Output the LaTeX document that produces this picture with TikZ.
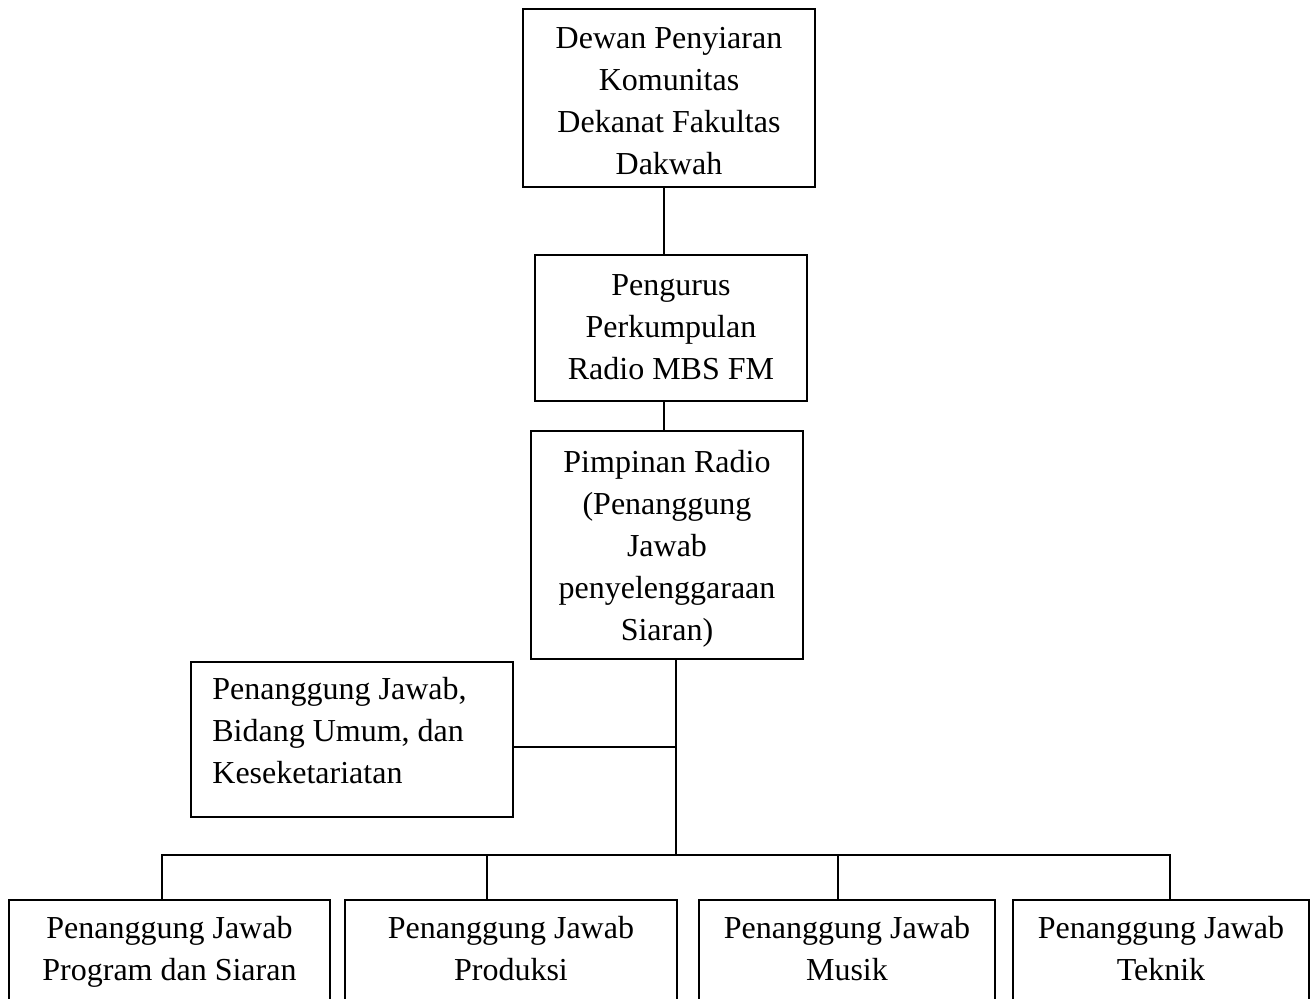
\documentclass[tikz,border=0pt]{standalone}
\usepackage{fontspec}
\setmainfont{Liberation Serif}
\begin{document}
\begin{tikzpicture}[x=0.5pt,y=-0.5pt,
  box/.style={draw=black, line width=1pt, rectangle, inner sep=0pt},
  txt/.style={inner sep=0pt, font=\fontsize{16}{21}\selectfont},
  conn/.style={draw=black, line width=1pt}]
\clip (0,0) rectangle (1314,999);
\fill[white] (0,0) rectangle (1314,999);
% boxes
\node[box, minimum width=146pt, minimum height=89pt] (b1) at (669,98) {};
\node[box, minimum width=136pt, minimum height=73pt] (b2) at (671,328) {};
\node[box, minimum width=136pt, minimum height=114pt] (b3) at (667,545) {};
\node[box, minimum width=161pt, minimum height=77.5pt] (lb) at (352,739.5) {};
\node[box, minimum width=160.5pt, minimum height=60pt] (bA) at (169.5,960) {};
\node[box, minimum width=166pt, minimum height=60pt] (bB) at (511,960) {};
\node[box, minimum width=148pt, minimum height=60pt] (bC) at (847,960) {};
\node[box, minimum width=148pt, minimum height=60pt] (bD) at (1161,960) {};
% texts
\node[txt, anchor=base] (t1) at (669,49) {\parbox[t]{300pt}{\centering Dewan Penyiaran\\Komunitas\\Dekanat Fakultas\\Dakwah}};
\node[txt, anchor=base] (t2) at (671,296) {\parbox[t]{300pt}{\centering Pengurus\\Perkumpulan\\Radio MBS FM}};
\node[txt, anchor=base] (t3) at (667,473) {\parbox[t]{300pt}{\centering Pimpinan Radio\\(Penanggung\\Jawab\\penyelenggaraan\\Siaran)}};
\node[txt, anchor=base west] (tl) at (212,700) {\parbox[t]{200pt}{\raggedright Penanggung Jawab,\\Bidang Umum, dan\\Keseketariatan}};
\node[txt, anchor=base] (tA) at (169.5,939) {\parbox[t]{300pt}{\centering Penanggung Jawab\\Program dan Siaran}};
\node[txt, anchor=base] (tB) at (511,939) {\parbox[t]{300pt}{\centering Penanggung Jawab\\Produksi}};
\node[txt, anchor=base] (tC) at (847,939) {\parbox[t]{300pt}{\centering Penanggung Jawab\\Musik}};
\node[txt, anchor=base] (tD) at (1161,939) {\parbox[t]{300pt}{\centering Penanggung Jawab\\Teknik}};
% connector coordinates
\coordinate (v1) at (664,0);
\coordinate (h) at (676,747);
\coordinate (jm) at (676,855);
\coordinate (dA) at (162,855);
\coordinate (dB) at (487,855);
\coordinate (dC) at (838,855);
\coordinate (dD) at (1170,855);
% connectors
\draw[conn] (b1.south -| v1) -- (b2.north -| v1);
\draw[conn] (b2.south -| v1) -- (b3.north -| v1);
\draw[conn] (b3.south -| jm) -- (jm);
\draw[conn] (lb.east |- h) -- (h);
\draw[conn] (bA.north -| dA) -- (dA) -- (dD) -- (bD.north -| dD);
\draw[conn] (dB) -- (bB.north -| dB);
\draw[conn] (dC) -- (bC.north -| dC);
\end{tikzpicture}
\end{document}
